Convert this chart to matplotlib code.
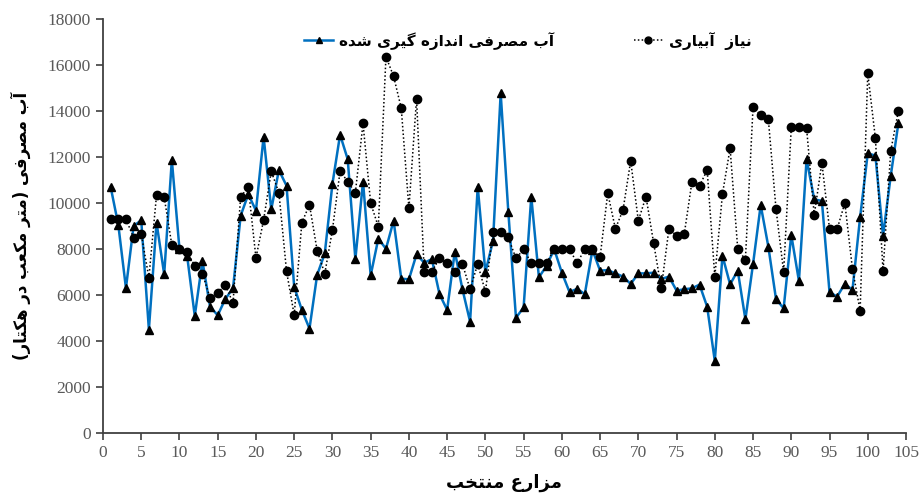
import matplotlib
matplotlib.use("Agg")
import matplotlib.pyplot as plt
from matplotlib.lines import Line2D

# ---------------- data ----------------
farms = list(range(1, 105))

measured = [10700, 9050, 6300, 9000, 9250, 4500, 9150, 6900, 11870, 8000,
            7700, 5090, 7480, 5490, 5120, 5830, 6290, 9450, 10380, 9670,
            12880, 9720, 11430, 10750, 6360, 5350, 4540, 6870, 7810, 10830,
            12970, 11900, 7560, 10930, 6850, 8450, 8010, 9230, 6710, 6680,
            7770, 7400, 7560, 6040, 5350, 7890, 6250, 4840, 10710, 6990,
            8360, 14770, 9610, 5010, 5460, 10280, 6770, 7270, 7990, 6970,
            6130, 6270, 6040, 7960, 7060, 7080, 6940, 6800, 6480, 6940,
            6940, 6970, 6700, 6800, 6190, 6250, 6290, 6450, 5490, 3130,
            7710, 6460, 7060, 4940, 7350, 9910, 8100, 5830, 5420, 8610,
            6610, 11910, 10160, 10090, 6120, 5930, 6490, 6220, 9380, 12160,
            12060, 8580, 11170, 13460]

need = [9320, 9320, 9300, 8490, 8650, 6750, 10350, 10260, 8170, 7990,
        7850, 7280, 6930, 5880, 6100, 6430, 5650, 10280, 10680, 7610,
        9260, 11380, 10450, 7030, 5130, 9140, 9930, 7930, 6930, 8830,
        11390, 10930, 10450, 13460, 9990, 8970, 16360, 15510, 14120, 9770,
        14540, 7010, 7010, 7590, 7380, 7010, 7350, 6250, 7350, 6140,
        8750, 8750, 8500, 7590, 7990, 7390, 7390, 7390, 7990, 7990,
        7990, 7390, 7990, 7990, 7650, 10430, 8880, 9700, 11830, 9230,
        10280, 8260, 6290, 8880, 8580, 8640, 10900, 10750, 11430, 6800,
        10390, 12380, 7990, 7540, 14160, 13830, 13640, 9750, 7000, 13290,
        13290, 13250, 9480, 11750, 8870, 8870, 10000, 7130, 5320, 15640,
        12810, 7030, 12260, 14000]

x_ticks = list(range(0, 106, 5))
y_ticks = list(range(0, 18001, 2000))

label_measured = "آب مصرفی اندازه گیری شده"
label_need = "نیاز  آبیاری"
x_label = "مزارع منتخب"
y_label = "آب مصرفی (متر مکعب در هکتار)"

# ------------- simple Arabic/Persian shaping -------------
# (isolated, final, initial, medial); None => right-joining only
FORMS = {
    '\u0627': ('\uFE8D', '\uFE8E', None, None),   # alef
    '\u0622': ('\uFE81', '\uFE82', None, None),   # alef madda
    '\u0628': ('\uFE8F', '\uFE90', '\uFE91', '\uFE92'),  # beh
    '\u062A': ('\uFE95', '\uFE96', '\uFE97', '\uFE98'),  # teh
    '\u062E': ('\uFEA5', '\uFEA6', '\uFEA7', '\uFEA8'),  # khah
    '\u062F': ('\uFEA9', '\uFEAA', None, None),   # dal
    '\u0631': ('\uFEAD', '\uFEAE', None, None),   # reh
    '\u0632': ('\uFEAF', '\uFEB0', None, None),   # zain
    '\u0634': ('\uFEB5', '\uFEB6', '\uFEB7', '\uFEB8'),  # sheen
    '\u0635': ('\uFEB9', '\uFEBA', '\uFEBB', '\uFEBC'),  # sad
    '\u0639': ('\uFEC9', '\uFECA', '\uFECB', '\uFECC'),  # ain
    '\u0641': ('\uFED1', '\uFED2', '\uFED3', '\uFED4'),  # feh
    '\u0645': ('\uFEE1', '\uFEE2', '\uFEE3', '\uFEE4'),  # meem
    '\u0646': ('\uFEE5', '\uFEE6', '\uFEE7', '\uFEE8'),  # noon
    '\u0647': ('\uFEE9', '\uFEEA', '\uFEEB', '\uFEEC'),  # heh
    '\u06CC': ('\uFBFC', '\uFBFD', '\uFBFE', '\uFBFF'),  # farsi yeh
    '\u06A9': ('\uFB8E', '\uFB8F', '\uFB90', '\uFB91'),  # keheh
    '\u06AF': ('\uFB92', '\uFB93', '\uFB94', '\uFB95'),  # gaf
}


def shape(text):
    out = []
    n = len(text)
    for i, ch in enumerate(text):
        if ch not in FORMS:
            out.append(ch)
            continue
        f = FORMS[ch]
        prev = text[i - 1] if i > 0 else None
        nxt = text[i + 1] if i < n - 1 else None
        jp = prev in FORMS and FORMS[prev][2] is not None
        jn = f[2] is not None and nxt in FORMS
        if jp and jn:
            out.append(f[3])
        elif jp:
            out.append(f[1])
        elif jn:
            out.append(f[2])
        else:
            out.append(f[0])
    vis = ''.join(reversed(out))
    vis = vis.translate(str.maketrans({'(': ')', ')': '('}))
    return vis


# ---------------- figure ----------------
plt.rcParams['font.family'] = ['DejaVu Sans']
fig = plt.figure(figsize=(9.24, 4.98), dpi=100)
ax = fig.add_axes([103 / 924, 1 - 433 / 498, (906 - 103) / 924, (433 - 19) / 498])

blue = '#0070C0'
ax.plot(farms, measured, color=blue, lw=1.8, marker='^', ms=6,
        mfc='black', mec='black', zorder=3)
ax.plot(farms, need, color='black', lw=1.1, ls=(0, (1, 1.5)), marker='o', ms=6,
        mfc='black', mec='black', zorder=4)

ax.set_xlim(0, 105)
ax.set_ylim(0, 18000)
ax.set_xticks(x_ticks)
ax.set_yticks(y_ticks)

for s in ['top', 'right']:
    ax.spines[s].set_visible(False)
for s in ['left', 'bottom']:
    ax.spines[s].set_color('#404040')
    ax.spines[s].set_linewidth(1.3)

ax.tick_params(axis='both', direction='out', length=5, width=1.2, color='#404040',
               labelsize=12.5, labelcolor='#595959')
for lab in ax.get_xticklabels() + ax.get_yticklabels():
    lab.set_fontfamily('Liberation Serif')

ax.set_xlabel(shape(x_label), fontsize=13, fontweight='bold', labelpad=9,
              family=['DejaVu Sans'])
ax.set_ylabel(shape(y_label), fontsize=12, fontweight='bold', labelpad=12,
              family=['DejaVu Sans'])

h1 = Line2D([], [], color=blue, lw=1.8, marker='^', ms=5, mfc='black', mec='black')
h2 = Line2D([], [], color='black', lw=1.1, ls=(0, (1, 1.5)), marker='o', ms=5,
            mfc='black', mec='black')
fig.legend([h1, h2], [shape(label_measured), shape(label_need)],
           loc='upper center', bbox_to_anchor=(528 / 924, 1 - 18 / 498),
           ncol=2, frameon=False, handlelength=1.9, columnspacing=5.2,
           handletextpad=0.4, markerscale=1.0,
           prop={'family': 'DejaVu Sans', 'weight': 'bold', 'size': 11})

fig.savefig('out.png', dpi=100)
